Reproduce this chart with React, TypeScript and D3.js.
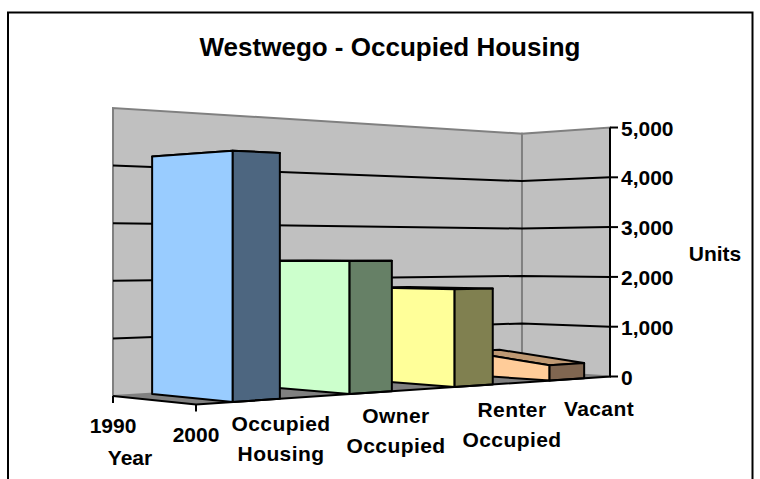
import React, { useEffect, useRef } from 'react';
import * as d3 from 'd3';

const title = 'Westwego - Occupied Housing';
const categories = ['Occupied Housing', 'Owner Occupied', 'Renter Occupied', 'Vacant'];
const values = [4180, 2340, 1810, 300];
const frontColors = ['#99ccff', '#ccffcc', '#ffff99', '#ffcc99'];
const sideColors = ['#4d6680', '#668066', '#808050', '#806650'];
const topColors = ['#7399bf', '#99bf99', '#bfbf73', '#bf9973'];
const valueTicks = [0, 1000, 2000, 3000, 4000, 5000];
const years = ['1990', '2000'];

// the old renderer draws the low bar's top tilted up towards the back
const backRise = [0, 0, 0, 0.035];

// category label lines and where they sit
const catLabels = [
  { lines: ['Occupied', 'Housing'], x: 281, y: [431, 461] },
  { lines: ['Owner', 'Occupied'], x: 396, y: [423, 453] },
  { lines: ['Renter', 'Occupied'], x: 512, y: [417, 447] },
  { lines: ['Vacant'], x: 599, y: [416] },
];

// perspective box: u runs front corner -> right corner, v runs front corner -> left corner
const A = [196, 404.5], B = [610, 376.5], D = [113, 396];
const wB = 1.2274, wD = 1.0612, H0 = 305.6;

function project(u: number, v: number, z: number): [number, number] {
  const w = 1 + (wB - 1) * u + (wD - 1) * v;
  const x = A[0] + (B[0] * wB - A[0]) * u + (D[0] * wD - A[0]) * v;
  const y = A[1] + (B[1] * wB - A[1]) * u + (D[1] * wD - A[1]) * v - H0 * z;
  return [x / w, y / w];
}

export default function App() {
  const ref = useRef<SVGSVGElement>(null);

  useEffect(() => {
    const svg = d3.select(ref.current);
    svg.selectAll('*').remove();

    const zScale = d3.scaleLinear().domain([0, 5000]).range([0, 1]);
    const uScale = d3.scaleBand<string>().domain(categories).range([-0.003, 1.001]).paddingInner(0.61).paddingOuter(0.305);
    const vBack = 0.96;
    const line = d3.line();
    const poly = (pts: [number, number][]) => line(pts) + 'Z';
    const font = '"Liberation Sans", Arial, sans-serif';

    // frame, open at the bottom
    svg.append('path')
      .attr('d', 'M8,479V12.5H752.5V479')
      .attr('fill', 'white').attr('stroke', 'black').attr('stroke-width', 2);

    // walls and floor
    svg.append('path')
      .attr('d', poly([project(0, 1, 0), project(0, 1, 1), project(1, 1, 1), project(1, 1, 0)]))
      .attr('fill', '#c0c0c0').attr('stroke', '#808080').attr('stroke-width', 2);
    svg.append('path')
      .attr('d', poly([project(1, 1, 0), project(1, 1, 1), project(1, 0, 1), project(1, 0, 0)]))
      .attr('fill', '#c0c0c0').attr('stroke', '#808080').attr('stroke-width', 2);
    svg.append('path')
      .attr('d', poly([project(0, 0, 0), project(1, 0, 0), project(1, 1, 0), project(0, 1, 0)]))
      .attr('fill', '#808080');

    // gridlines
    valueTicks.slice(1, -1).forEach(t => {
      const z = zScale(t);
      svg.append('path')
        .attr('d', line([project(0, 1, z), project(1, 1, z), project(1, 0, z)]))
        .attr('fill', 'none').attr('stroke', 'black').attr('stroke-width', 2);
    });

    // bars, far right first so nearer ones cover them
    d3.range(categories.length - 1, -1, -1).forEach(i => {
      const u0 = uScale(categories[i]) as number;
      const u1 = u0 + uScale.bandwidth();
      const z = zScale(values[i]);
      const zb = z + backRise[i];
      const face = (pts: [number, number][], fill: string) =>
        svg.append('path').attr('d', poly(pts)).attr('fill', fill)
          .attr('stroke', 'black').attr('stroke-width', 2).attr('stroke-linejoin', 'round');
      face([project(u0, 0, z), project(u1, 0, z), project(u1, vBack, zb), project(u0, vBack, zb)], topColors[i]);
      face([project(u0, 0, 0), project(u0, 0, z), project(u0, vBack, zb), project(u0, vBack, 0)], frontColors[i]);
      face([project(u0, 0, 0), project(u0, 0, z), project(u1, 0, z), project(u1, 0, 0)], sideColors[i]);
    });

    // axes
    svg.append('path')
      .attr('d', line([project(1, 0, 1), project(1, 0, 0), project(0, 0, 0), project(0, 1, 0)]))
      .attr('fill', 'none').attr('stroke', 'black').attr('stroke-width', 2);

    const label = (s: string, x: number, y: number, size = 21, spacing = 0.4) =>
      svg.append('text').attr('x', x).attr('y', y).attr('text-anchor', 'middle')
        .attr('font-family', font).attr('font-weight', 700).attr('font-size', size)
        .attr('letter-spacing', spacing).text(s);

    valueTicks.forEach(t => {
      const [x, y] = project(1, 0, zScale(t));
      svg.append('line').attr('x1', x).attr('x2', x + 8).attr('y1', y).attr('y2', y)
        .attr('stroke', 'black').attr('stroke-width', 2);
      svg.append('text').attr('x', x + 11).attr('y', y + 8)
        .attr('font-family', font).attr('font-weight', 700).attr('font-size', 21)
        .text(d3.format(',')(t));
    });

    years.forEach((yr, i) => {
      const [x, y] = project(0, 1 - i, 0);
      svg.append('line').attr('x1', x).attr('x2', x).attr('y1', y).attr('y2', y + 7)
        .attr('stroke', 'black').attr('stroke-width', 2);
      label(yr, x, y + 37, 21, 0);
    });

    catLabels.forEach(c => c.lines.forEach((s, j) => label(s, c.x, c.y[j])));
    label('Year', 130, 465, 21, 0);
    label('Units', 715, 261, 21, 0);
    label(title, 390, 56, 26, 0);
  }, []);

  return <svg ref={ref} width={760} height={479} style={{ position: 'absolute', left: 0, top: 0 }} />;
}
